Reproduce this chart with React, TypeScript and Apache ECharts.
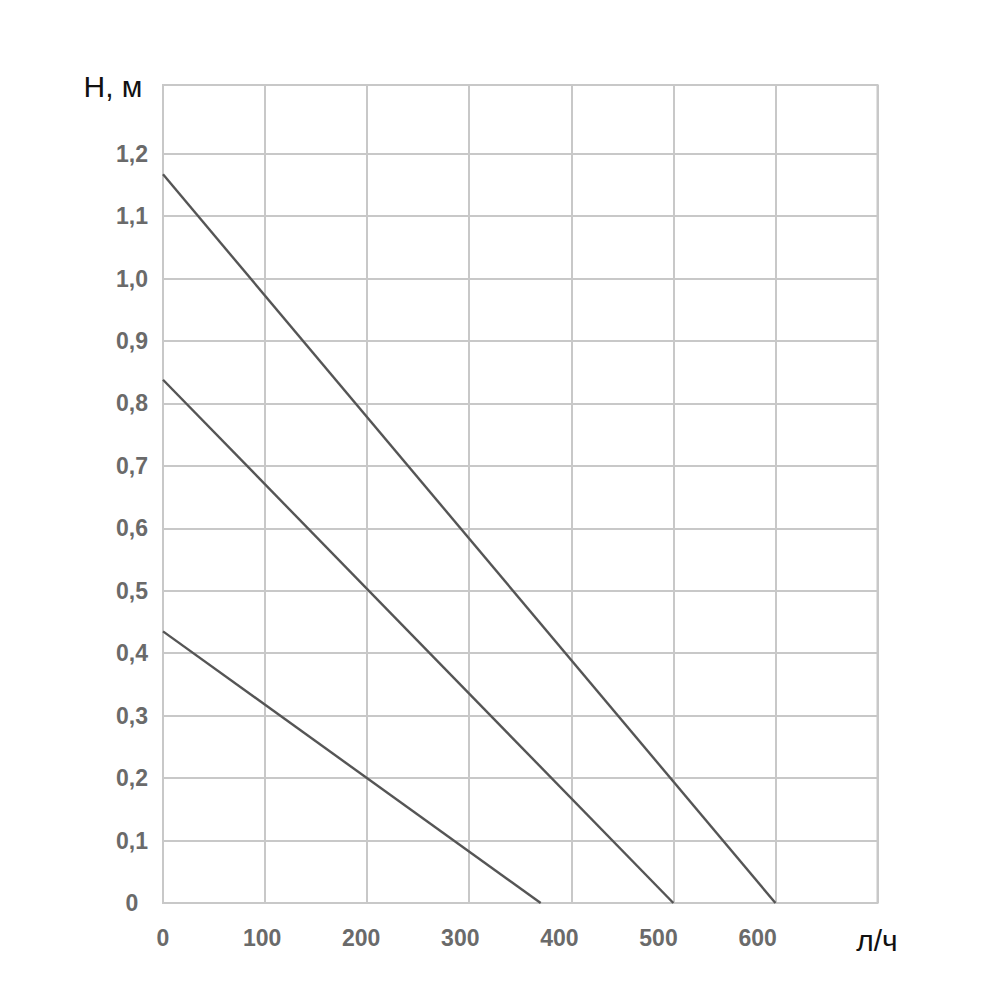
import React, { useEffect, useRef } from "react";
import * as echarts from "echarts";

const yTicks = [0, 0.1, 0.2, 0.3, 0.4, 0.5, 0.6, 0.7, 0.8, 0.9, 1.0, 1.1, 1.2];
const xTicks = [0, 100, 200, 300, 400, 500, 600];
const curveHigh = [[0, 1.167], [600, 0]];
const curveMid = [[0, 0.838], [500, 0]];
const curveLow = [[0, 0.435], [370, 0]];
const yAxisTitle = "Н, м";
const xAxisTitle = "л/ч";

const FONT = "'Liberation Sans', Arial, Helvetica, sans-serif";
const LABEL_COLOR = "#6a6a6a";
const GRID_COLOR = "#c8c8c8";
const LINE_COLOR = "#555555";

export default function App() {
  const ref = useRef<HTMLDivElement>(null);
  useEffect(() => {
    if (!ref.current) return;
    const chart = echarts.init(ref.current, null, { renderer: "svg" });
    const lineSeries = (data: number[][]) => ({
      type: "line",
      data,
      xAxisIndex: 0,
      yAxisIndex: 0,
      symbol: "none",
      lineStyle: { color: LINE_COLOR, width: 2.4 },
      silent: true,
    });
    chart.setOption({
      animation: false,
      backgroundColor: "#ffffff",
      grid: {
        left: 163,
        top: 85,
        right: 122.5,
        bottom: 97,
        show: true,
        borderColor: GRID_COLOR,
        borderWidth: 2,
        backgroundColor: "transparent",
      },
      xAxis: [
        {
          type: "value",
          position: "top",
          min: 0,
          max: 700,
          interval: 100,
          axisLine: { show: false },
          axisTick: { show: false },
          axisLabel: { show: false },
          splitLine: { show: true, lineStyle: { color: GRID_COLOR, width: 2 } },
        },
        {
          type: "value",
          position: "bottom",
          min: 0,
          max: 721,
          interval: 100,
          axisLine: { show: false },
          axisTick: { show: false, customValues: xTicks },
          splitLine: { show: false },
          axisLabel: {
            customValues: xTicks,
            margin: 23,
            color: LABEL_COLOR,
            fontFamily: FONT,
            fontWeight: "bold",
            fontSize: 23,
            formatter: (v: number) => String(v),
          },
        },
      ],
      yAxis: {
        type: "value",
        min: 0,
        max: 1.31,
        axisLine: { show: false },
        axisTick: { show: false, customValues: yTicks },
        splitLine: { show: true, lineStyle: { color: GRID_COLOR, width: 2 } },
        axisLabel: {
          customValues: yTicks,
          margin: 31,
          align: "center",
          color: LABEL_COLOR,
          fontFamily: FONT,
          fontWeight: "bold",
          fontSize: 23,
          formatter: (v: number) => (v === 0 ? "0" : v.toFixed(1).replace(".", ",")),
        },
      },
      graphic: [
        {
          type: "text",
          x: 113,
          y: 86,
          style: {
            text: yAxisTitle,
            fill: "#111111",
            font: `30px ${FONT}`,
            align: "center",
            verticalAlign: "middle",
          },
        },
        {
          type: "text",
          x: 877,
          y: 940,
          style: {
            text: xAxisTitle,
            fill: "#111111",
            font: `30px ${FONT}`,
            align: "center",
            verticalAlign: "middle",
          },
        },
      ],
      series: [lineSeries(curveHigh), lineSeries(curveMid), lineSeries(curveLow)],
    });
    return () => chart.dispose();
  }, []);
  return (
    <div
      ref={ref}
      style={{ position: "fixed", left: 0, top: 0, width: 1000, height: 1000, background: "#fff" }}
    />
  );
}
